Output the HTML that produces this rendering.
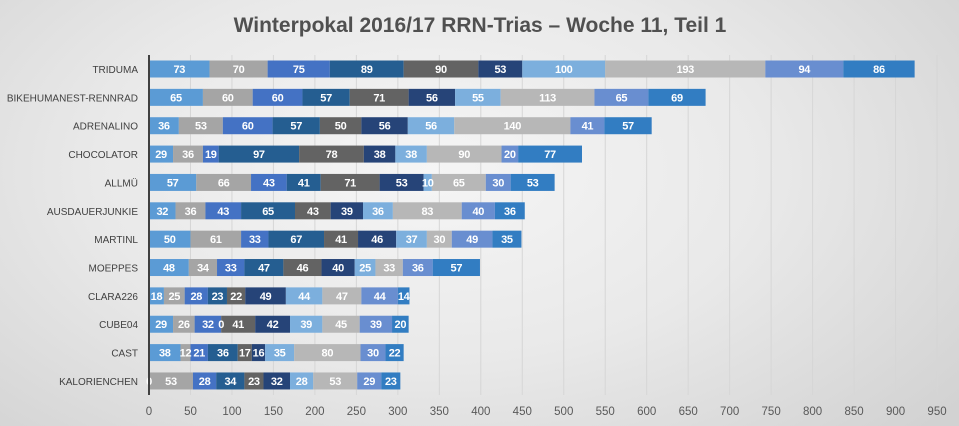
<!DOCTYPE html>
<html><head><meta charset="utf-8"><style>
html,body{margin:0;padding:0;}
body{width:959px;height:426px;overflow:hidden;background:radial-gradient(ellipse 70% 90% at 45% 40%,#f5f5f5 0%,#e9e9e9 50%,#d2d2d2 100%);font-family:"Liberation Sans",sans-serif;}
svg{display:block;}
</style></head><body>
<svg id="s" width="959" height="426" xmlns="http://www.w3.org/2000/svg" font-family="Liberation Sans, sans-serif">
<text x="480" y="32" text-anchor="middle" font-size="21" font-weight="bold" fill="#505050">Winterpokal 2016/17 RRN-Trias – Woche 11, Teil 1</text>
</svg>
<script>
var data=[["TRIDUMA",[73,70,75,89,90,53,100,193,94,86]],
["BIKEHUMANEST-RENNRAD",[65,60,60,57,71,56,55,113,65,69]],
["ADRENALINO",[36,53,60,57,50,56,56,140,41,57]],
["CHOCOLATOR",[29,36,19,97,78,38,38,90,20,77]],
["ALLMÜ",[57,66,43,41,71,53,10,65,30,53]],
["AUSDAUERJUNKIE",[32,36,43,65,43,39,36,83,40,36]],
["MARTINL",[50,61,33,67,41,46,37,30,49,35]],
["MOEPPES",[48,34,33,47,46,40,25,33,36,57]],
["CLARA226",[18,25,28,23,22,49,44,47,44,14]],
["CUBE04",[29,26,32,0,41,42,39,45,39,20]],
["CAST",[38,12,21,36,17,16,35,80,30,22]],
["KALORIENCHEN",[0,53,28,34,23,32,28,53,29,23]]];
var col=["#5B9BD5","#A5A5A5","#4472C4","#255E91","#636363","#264478","#7CAFDD","#B7B7B7","#698ED0","#327DC2"];
var x0=149,k=0.8295,s=document.getElementById('s'),h='';
for(var v=50;v<=950;v+=50){var x=x0+v*k;h+='<line x1="'+x+'" y1="55" x2="'+x+'" y2="395" stroke="#d6d6d6" stroke-width="1"/>';}
for(var v=0;v<=950;v+=50){h+='<text x="'+(x0+v*k)+'" y="415" text-anchor="middle" font-size="11.5" fill="#595959">'+v+'</text>';}
data.forEach(function(d,i){var cy=69+i*28.36,y=cy-8.5,acc=0;
h+='<text x="138" y="'+(cy+4)+'" text-anchor="end" font-size="10" fill="#404040">'+d[0]+'</text>';
d[1].forEach(function(v,j){var x=x0+acc*k,w=v*k;
h+='<rect x="'+x+'" y="'+y+'" width="'+w+'" height="17" fill="'+col[j]+'"/>';
acc+=v;});
acc=0;
d[1].forEach(function(v,j){var x=x0+acc*k,w=v*k;
h+='<text x="'+(x+w/2)+'" y="'+(cy+4)+'" text-anchor="middle" font-size="11" font-weight="bold" fill="#fff" letter-spacing="-0.3">'+v+'</text>';
acc+=v;});});
h+='<line x1="149" y1="55" x2="149" y2="395" stroke="#404040" stroke-width="2"/>';
s.insertAdjacentHTML('beforeend',h);
</script>
</body></html>
